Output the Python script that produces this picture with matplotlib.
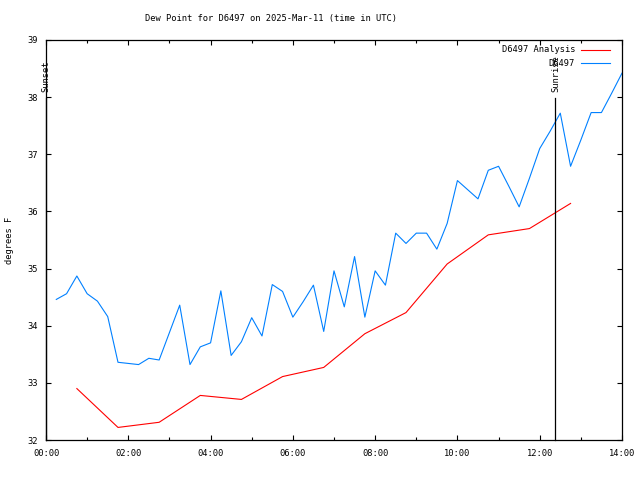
"""Dew point chart for D6497, 2025-Mar-11 (gnuplot-style look)."""

import matplotlib

matplotlib.use("Agg")
import matplotlib.pyplot as plt
from matplotlib.lines import Line2D

# observations every 15 minutes, hours UTC
obs_hours = [0.25 * k for k in range(1, 57)]
obs_dewpt = [
    34.46, 34.56, 34.87, 34.56, 34.43, 34.16, 33.36, 33.34, 33.32, 33.43,
    33.40, 33.88, 34.36, 33.32, 33.63, 33.70, 34.61, 33.48, 33.72, 34.14,
    33.82, 34.72, 34.60, 34.15, 34.42, 34.71, 33.90, 34.96, 34.33, 35.21,
    34.15, 34.96, 34.71, 35.62, 35.44, 35.62, 35.62, 35.34, 35.79, 36.54,
    36.38, 36.22, 36.72, 36.79, 36.44, 36.08, 36.58, 37.10, 37.40, 37.72,
    36.79, 37.25, 37.73, 37.73, 38.07, 38.42,
]

# hourly analysis at :45
ana_hours = [h + 0.75 for h in range(13)]
ana_dewpt = [
    32.90, 32.22, 32.31, 32.78, 32.71, 33.11, 33.27,
    33.86, 34.23, 35.08, 35.59, 35.70, 36.14,
]

sunset_hour = 0.0
sunrise_hour = 12 + 23 / 60
event_line_top = 37.98
event_label_y = 38.095

xticks = list(range(0, 15, 2))
xtick_labels = ["%02d:00" % h for h in xticks]
yticks = list(range(32, 40))

font = "DejaVu Sans Mono"
fs = 6.3
plt.rcParams["font.family"] = font

fig = plt.figure(figsize=(6.4, 4.8), dpi=100)
ax = fig.add_axes([46 / 640, 40 / 480, 576 / 640, 400 / 480])

ax.plot(ana_hours, ana_dewpt, color="#ff0000", lw=0.8)
ax.plot(obs_hours, obs_dewpt, color="#0080ff", lw=0.8)

ax.set_xlim(0, 14)
ax.set_ylim(32, 39)
ax.set_xticks(xticks)
ax.set_xticklabels(xtick_labels)
ax.set_xticks(range(0, 15), minor=True)
ax.set_yticks(yticks)
ax.tick_params(which="both", direction="in", top=True, right=True,
               labelsize=fs, width=0.8, color="black")
ax.tick_params(which="major", length=3.5)
ax.tick_params(which="minor", length=2.2)
ax.tick_params(axis="y", pad=5.5)
ax.tick_params(axis="x", pad=6.5)
for sp in ax.spines.values():
    sp.set_linewidth(0.9)

# sunrise / sunset markers
for hr, name in [(sunset_hour, "Sunset"), (sunrise_hour, "Sunrise")]:
    ax.plot([hr, hr], [32, event_line_top], color="black", lw=0.9, clip_on=False)
    ax.text(hr, event_label_y, name, rotation=90, ha="center", va="bottom",
            fontsize=fs)

# legend drawn gnuplot style: right-aligned text, sample line after it
leg_items = [("D6497 Analysis", "#ff0000"), ("D6497", "#0080ff")]
for i, (label, col) in enumerate(leg_items):
    ypix = 50 + 13 * i
    yf = 1 - ypix / 480
    fig.text(575 / 640, yf, label, ha="right", va="center", fontsize=fs)
    fig.add_artist(Line2D([581 / 640, 610 / 640], [yf, yf], color=col, lw=0.8))

fig.text(271 / 640, 1 - 19 / 480, "Dew Point for D6497 on 2025-Mar-11 (time in UTC)",
         ha="center", va="center", fontsize=fs)
fig.text(10 / 640, 0.5, "degrees F", rotation=90, ha="center", va="center",
         fontsize=fs)

fig.savefig("out.png", dpi=100)
